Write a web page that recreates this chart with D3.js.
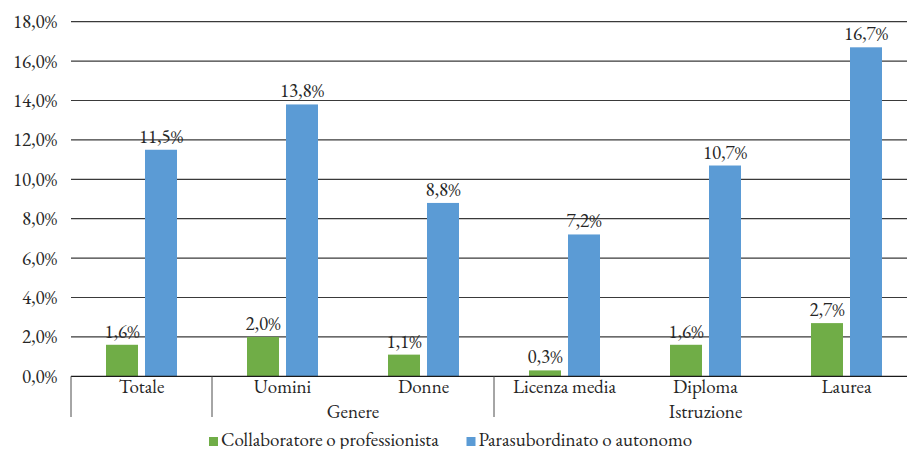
<!DOCTYPE html>
<html>
<head>
<meta charset="utf-8">
<script src="https://cdn.jsdelivr.net/npm/d3@7"></script>
<style>
  html, body { margin: 0; padding: 0; background: #fff; }
  svg { display: block; }
</style>
</head>
<body>
<svg id="chart" width="907" height="449"></svg>
<script>
// Categories along the x axis, with their group labels
const categories = ["Totale", "Uomini", "Donne", "Licenza media", "Diploma", "Laurea"];
const groups = [
  { label: "", from: 0, to: 1 },
  { label: "Genere", from: 1, to: 3 },
  { label: "Istruzione", from: 3, to: 6 }
];
const seriesNames = ["Collaboratore o professionista", "Parasubordinato o autonomo"];
const collaboratore = [1.6, 2.0, 1.1, 0.3, 1.6, 2.7];
const parasubordinato = [11.5, 13.8, 8.8, 7.2, 10.7, 16.7];
const yTicks = [0, 2, 4, 6, 8, 10, 12, 14, 16, 18];
const colors = ["#70ad47", "#5b9bd5"];

const FONT = "'EB Garamond', 'Liberation Serif', serif";
const FS = 19;
const INK = "#262626";

const svg = d3.select("#chart");
const plot = { left: 71, right: 917, top: 21.7, bottom: 376.3 };

const fmt = v => d3.format(".1f")(v).replace(".", ",") + "%";
const label = sel => sel.style("font-family", FONT).style("font-size", FS + "px").style("fill", INK);

const x = d3.scaleBand().domain(categories).range([plot.left, plot.right]).paddingInner(0).paddingOuter(0);
const bw = x.bandwidth();
const xs = d3.scaleBand().domain(seriesNames)
  .range([bw / 2 - 35.5, bw / 2 + 35.5]).paddingInner(7 / 39).paddingOuter(0);
const y = d3.scaleLinear().domain([0, 18]).range([plot.bottom, plot.top]);

// Horizontal gridlines
svg.append("g").selectAll("line").data(yTicks.filter(t => t > 0)).join("line")
  .attr("x1", plot.left).attr("x2", plot.right)
  .attr("y1", d => y(d)).attr("y2", d => y(d))
  .attr("stroke", "#3a3a3a").attr("stroke-width", 1.2);

// Y axis tick labels
const yAxis = d3.axisLeft(y).tickValues(yTicks).tickFormat(fmt).tickSize(0).tickPadding(14);
const gy = svg.append("g").attr("transform", `translate(${plot.left},0)`).call(yAxis);
gy.select(".domain").remove();
gy.selectAll("text").call(label);

// Bars and value labels
const seriesData = [collaboratore, parasubordinato];
seriesNames.forEach((name, si) => {
  const g = svg.append("g");
  g.selectAll("rect").data(categories).join("rect")
    .attr("x", c => x(c) + xs(name))
    .attr("width", xs.bandwidth())
    .attr("y", (c, i) => y(seriesData[si][i]))
    .attr("height", (c, i) => y(0) - y(seriesData[si][i]))
    .attr("fill", colors[si]);
  g.selectAll("text").data(categories).join("text")
    .attr("x", c => x(c) + xs(name) + xs.bandwidth() / 2)
    .attr("y", (c, i) => y(seriesData[si][i]) - 7)
    .attr("text-anchor", "middle")
    .call(label)
    .text((c, i) => fmt(seriesData[si][i]));
});

// Baseline
svg.append("line")
  .attr("x1", plot.left).attr("x2", plot.right)
  .attr("y1", y(0)).attr("y2", y(0))
  .attr("stroke", "#1a1a1a").attr("stroke-width", 1.3);

// Category labels
svg.append("g").selectAll("text").data(categories).join("text")
  .attr("x", c => x(c) + bw / 2)
  .attr("y", 393)
  .attr("text-anchor", "middle")
  .call(label)
  .text(c => c);

// Group dividers and group labels
const dividerX = i => plot.left + i * bw;
const dividers = [0, 1, 3, 6];
svg.append("g").selectAll("line").data(dividers).join("line")
  .attr("x1", d => dividerX(d)).attr("x2", d => dividerX(d))
  .attr("y1", y(0)).attr("y2", 417)
  .attr("stroke", "#4d4d4d").attr("stroke-width", 1);
svg.append("g").selectAll("text").data(groups.filter(g => g.label)).join("text")
  .attr("x", g => (dividerX(g.from) + dividerX(g.to)) / 2)
  .attr("y", 418)
  .attr("text-anchor", "middle")
  .call(label)
  .text(g => g.label);

// Legend
const legendItems = [
  { name: seriesNames[0], x: 209 },
  { name: seriesNames[1], x: 466.5 }
];
const lg = svg.append("g").selectAll("g").data(legendItems).join("g");
lg.append("rect")
  .attr("x", d => d.x).attr("y", 437)
  .attr("width", 9).attr("height", 9)
  .attr("fill", (d, i) => colors[i]);
lg.append("text")
  .attr("x", d => d.x + 12).attr("y", 446)
  .call(label)
  .text(d => d.name);
</script>
</body>
</html>
